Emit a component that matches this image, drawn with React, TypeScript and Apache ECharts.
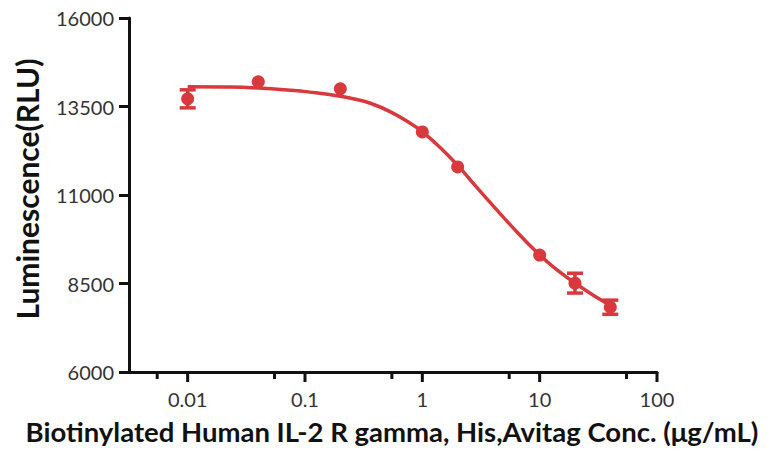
import React, { useEffect, useRef } from "react";
import * as echarts from "echarts";

// Measured points (concentration in µg/mL, luminescence in RLU)
const concentrations = [0.01, 0.04, 0.2, 1, 2, 10, 20, 40];
const meanRLU = [13716, 14197, 14000, 12782, 11792, 9302, 8510, 7830];
const errorRLU = [255, 0, 0, 0, 0, 0, 280, 200];

// Fitted curve
const fitConc = [0.01, 0.02, 0.04, 0.075, 0.11, 0.2, 0.27, 0.36, 0.53, 0.79, 1, 1.41, 2, 3, 5.65, 10, 15, 20, 30, 40];
const fitRLU = [14060, 14051, 14021, 13961, 13906, 13789, 13704, 13592, 13357, 13028, 12783, 12351, 11836, 11167, 10150, 9307, 8814, 8514, 8127, 7888];

// Axis ticks
const xMajorTicks = [0.01, 0.1, 1, 10, 100];
const xMajorLabels = ["0.01", "0.1", "1", "10", "100"];
const xMinorTicks = [0.0055, 0.055, 0.55, 5.5, 55];
const yTicks = [6000, 8500, 11000, 13500, 16000];

const xTitle = "Biotinylated Human IL-2 R gamma, His,Avitag Conc. (μg/mL)";
const yTitle = "Luminescence(RLU)";

const RED = "#d8393d";
const AXIS = "#111111";
const FONT = "Lato";

export default function App() {
  const ref = useRef<HTMLDivElement>(null);

  useEffect(() => {
    if (!ref.current) return;
    const chart = echarts.init(ref.current, null, { renderer: "svg" });

    const points = concentrations.map((c, i) => [c, meanRLU[i]]);
    const curve = fitConc.map((c, i) => [c, fitRLU[i]]);
    const errs = concentrations
      .map((c, i) => [c, meanRLU[i] - errorRLU[i], meanRLU[i] + errorRLU[i], errorRLU[i]])
      .filter((d) => d[3] > 0);
    const ticks = [
      ...xMajorTicks.map((t) => [t, 10]),
      ...xMinorTicks.map((t) => [t, 7]),
    ];

    const option: any = {
      animation: false,
      grid: { left: 129, right: 112, top: 18, bottom: 89, containLabel: false },
      xAxis: {
        type: "log",
        logBase: 10,
        min: Math.pow(10, -2.5),
        max: 100,
        axisLine: { show: true, lineStyle: { color: AXIS, width: 3 } },
        axisTick: { show: false },
        splitLine: { show: false },
        minorTick: { show: false },
        axisLabel: {
          show: true,
          margin: 17,
          fontSize: 20,
          fontFamily: FONT,
          color: "#333",
          showMinLabel: true,
          showMaxLabel: true,
          formatter: (v: number) => {
            for (let i = 0; i < xMajorTicks.length; i++) {
              if (Math.abs(Math.log10(v) - Math.log10(xMajorTicks[i])) < 1e-6) return xMajorLabels[i];
            }
            return "";
          },
        },
      },
      yAxis: {
        type: "value",
        min: yTicks[0],
        max: yTicks[yTicks.length - 1],
        interval: 2500,
        axisLine: { show: true, lineStyle: { color: AXIS, width: 3 } },
        axisTick: { show: true, length: 10, lineStyle: { color: AXIS, width: 3 } },
        splitLine: { show: false },
        axisLabel: {
          margin: 15,
          fontSize: 20,
          fontFamily: FONT,
          color: "#333",
          formatter: (v: number) => String(v),
        },
      },
      series: [
        {
          type: "custom",
          name: "xticks",
          silent: true,
          clip: false,
          data: ticks,
          renderItem: (params: any, api: any) => {
            const p = api.coord([api.value(0), yTicks[0]]);
            const len = api.value(1);
            return {
              type: "line",
              shape: { x1: p[0], y1: p[1], x2: p[0], y2: p[1] + len },
              style: { stroke: AXIS, lineWidth: 3 },
            };
          },
          z: 3,
        },
        {
          type: "line",
          name: "fit",
          data: curve,
          smooth: 0.5,
          showSymbol: false,
          symbol: "none",
          lineStyle: { color: RED, width: 3.5 },
          z: 4,
        },
        {
          type: "custom",
          name: "errors",
          data: errs,
          clip: false,
          renderItem: (params: any, api: any) => {
            const lo = api.coord([api.value(0), api.value(1)]);
            const hi = api.coord([api.value(0), api.value(2)]);
            const hw = 8;
            const st = { stroke: RED, lineWidth: 3.5 };
            return {
              type: "group",
              children: [
                { type: "line", shape: { x1: lo[0], y1: lo[1], x2: hi[0], y2: hi[1] }, style: st },
                { type: "line", shape: { x1: lo[0] - hw, y1: lo[1], x2: lo[0] + hw, y2: lo[1] }, style: st },
                { type: "line", shape: { x1: hi[0] - hw, y1: hi[1], x2: hi[0] + hw, y2: hi[1] }, style: st },
              ],
            };
          },
          z: 5,
        },
        {
          type: "scatter",
          name: "data",
          data: points,
          symbol: "circle",
          symbolSize: 13,
          itemStyle: { color: RED, opacity: 1 },
          z: 6,
        },
      ],
      graphic: [
        {
          type: "text",
          x: 392,
          y: 431,
          style: {
            text: xTitle,
            fontSize: 27.5,
            fontWeight: "bold",
            fontFamily: FONT,
            fill: "#111",
            textAlign: "center",
            textVerticalAlign: "middle",
          },
        },
        {
          type: "text",
          x: 27,
          y: 189,
          rotation: Math.PI / 2,
          style: {
            text: yTitle,
            fontSize: 30,
            fontWeight: "bold",
            fontFamily: FONT,
            fill: "#111",
            textAlign: "center",
            textVerticalAlign: "middle",
          },
        },
      ],
    };

    chart.setOption(option);
    return () => chart.dispose();
  }, []);

  return <div ref={ref} style={{ width: 769, height: 461, position: "absolute", left: 0, top: 0 }} />;
}
